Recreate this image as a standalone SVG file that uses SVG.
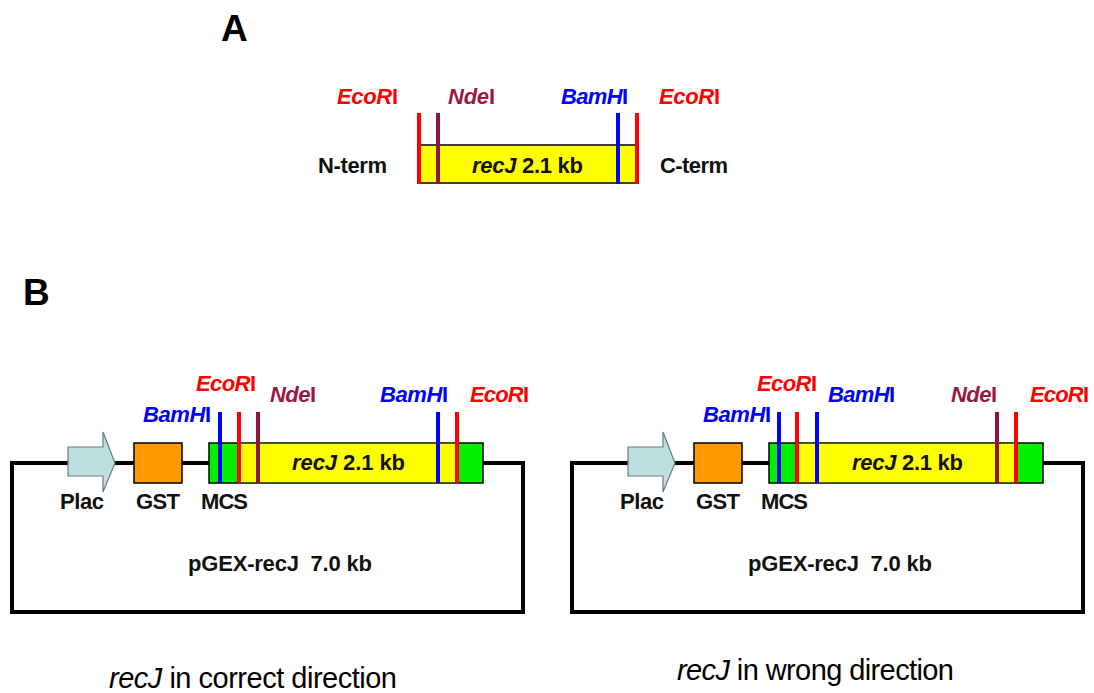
<svg xmlns="http://www.w3.org/2000/svg" width="1094" height="693" viewBox="0 0 1094 693">
  <style>
    text { font-family: "Liberation Sans", Arial, sans-serif; }
    .panel { font-size: 37px; font-weight: bold; fill: #000; }
    .site { font-size: 22px; font-weight: bold; }
    .eco { fill: #ff0000; }
    .nde { fill: #99183f; }
    .bam { fill: #0000ff; }
    .lbl { font-size: 22px; font-weight: bold; fill: #111; }
    .cap { font-size: 29px; fill: #000; }
    .it { font-style: italic; }
    .cut { stroke-width: 4; fill: none; }
    .cut-eco { stroke: #ff0000; }
    .cut-nde { stroke: #8e1538; }
    .cut-bam { stroke: #0000ff; }
    .frame { fill: none; stroke: #000; stroke-width: 4; }
    .box { stroke: #000; stroke-width: 1.5; }
    .gene { fill: #ffff00; }
    .mcs { fill: #00ee00; }
    .gst { fill: #ff9900; }
    .plac { fill: #bcdfe0; stroke: #6e7b7c; stroke-width: 1.2; }
  </style>

  <!-- panel letters -->
  <g id="label-A"><text class="panel" x="221" y="41">A</text></g>
  <g id="label-B"><text class="panel" x="23" y="305">B</text></g>

  <!-- A: recJ insert -->
  <g id="insert-A">
    <rect class="box gene" x="419" y="145" width="217" height="38"/>
    <line class="cut cut-eco" x1="419" y1="113" x2="419" y2="184"/>
    <line class="cut cut-nde" x1="438" y1="113" x2="438" y2="184"/>
    <line class="cut cut-bam" x1="618" y1="113" x2="618" y2="184"/>
    <line class="cut cut-eco" x1="637" y1="113" x2="637" y2="184"/>
    <text class="lbl" x="472" y="173" textLength="111"><tspan class="it">recJ</tspan> 2.1 kb</text>
  </g>
  <g id="sites-A">
    <text class="site eco" x="337" y="104" textLength="61"><tspan class="it">EcoR</tspan>I</text>
    <text class="site nde" x="448" y="104" textLength="47"><tspan class="it">Nde</tspan>I</text>
    <text class="site bam" x="561" y="104" textLength="67"><tspan class="it">BamH</tspan>I</text>
    <text class="site eco" x="659" y="104" textLength="61"><tspan class="it">EcoR</tspan>I</text>
  </g>
  <g id="ends-A">
    <text class="lbl" x="318" y="173" textLength="69">N-term</text>
    <text class="lbl" x="660" y="173" textLength="68">C-term</text>
  </g>

  <!-- B left: correct orientation -->
  <g id="plasmid-left">
    <rect class="frame" x="12" y="463" width="511" height="149"/>
    <g id="plac-left">
      <polygon class="plac" points="68,447 103,447 103,432 115,463 103,492 103,476 68,476"/>
      <text class="lbl" x="60" y="509" textLength="44">Plac</text>
    </g>
    <g id="gst-left">
      <rect class="box gst" x="134" y="443" width="48" height="40"/>
      <text class="lbl" x="136" y="509" textLength="44">GST</text>
    </g>
    <g id="insert-left">
      <rect class="box mcs" x="209" y="443" width="274" height="40"/>
      <rect class="gene" x="239" y="443.75" width="218" height="38.5"/>
      <line class="cut cut-bam" x1="220" y1="412" x2="220" y2="483"/>
      <line class="cut cut-eco" x1="239" y1="412" x2="239" y2="483"/>
      <line class="cut cut-nde" x1="258" y1="412" x2="258" y2="483"/>
      <line class="cut cut-bam" x1="438" y1="412" x2="438" y2="483"/>
      <line class="cut cut-eco" x1="457" y1="412" x2="457" y2="483"/>
      <text class="lbl" x="201" y="509" textLength="47">MCS</text>
      <text class="lbl" x="292" y="470" textLength="113"><tspan class="it">recJ</tspan> 2.1 kb</text>
    </g>
    <g id="sites-left">
      <text class="site bam" x="143" y="422" textLength="68"><tspan class="it">BamH</tspan>I</text>
      <text class="site eco" x="196" y="391" textLength="60"><tspan class="it">EcoR</tspan>I</text>
      <text class="site nde" x="270" y="402" textLength="46"><tspan class="it">Nde</tspan>I</text>
      <text class="site bam" x="380" y="402" textLength="68"><tspan class="it">BamH</tspan>I</text>
      <text class="site eco" x="470" y="402" textLength="59"><tspan class="it">EcoR</tspan>I</text>
    </g>
    <text class="lbl" x="188" y="571" textLength="184">pGEX-recJ&#160; 7.0 kb</text>
  </g>

  <!-- B right: reversed orientation -->
  <g id="plasmid-right">
    <rect class="frame" x="572" y="463" width="511" height="149"/>
    <g id="plac-right">
      <polygon class="plac" points="628,447 663,447 663,432 675,463 663,492 663,476 628,476"/>
      <text class="lbl" x="620" y="509" textLength="44">Plac</text>
    </g>
    <g id="gst-right">
      <rect class="box gst" x="694" y="443" width="48" height="40"/>
      <text class="lbl" x="696" y="509" textLength="44">GST</text>
    </g>
    <g id="insert-right">
      <rect class="box mcs" x="769" y="443" width="274" height="40"/>
      <rect class="gene" x="797" y="443.75" width="219" height="38.5"/>
      <line class="cut cut-bam" x1="779" y1="412" x2="779" y2="483"/>
      <line class="cut cut-eco" x1="797" y1="412" x2="797" y2="483"/>
      <line class="cut cut-bam" x1="817" y1="412" x2="817" y2="483"/>
      <line class="cut cut-nde" x1="997" y1="412" x2="997" y2="483"/>
      <line class="cut cut-eco" x1="1016" y1="412" x2="1016" y2="483"/>
      <text class="lbl" x="761" y="509" textLength="47">MCS</text>
      <text class="lbl" x="852" y="470" textLength="111"><tspan class="it">recJ</tspan> 2.1 kb</text>
    </g>
    <g id="sites-right">
      <text class="site bam" x="703" y="422" textLength="68"><tspan class="it">BamH</tspan>I</text>
      <text class="site eco" x="757" y="391" textLength="60"><tspan class="it">EcoR</tspan>I</text>
      <text class="site bam" x="828" y="402" textLength="67"><tspan class="it">BamH</tspan>I</text>
      <text class="site nde" x="951" y="402" textLength="46"><tspan class="it">Nde</tspan>I</text>
      <text class="site eco" x="1030" y="402" textLength="59"><tspan class="it">EcoR</tspan>I</text>
    </g>
    <text class="lbl" x="748" y="571" textLength="184">pGEX-recJ&#160; 7.0 kb</text>
  </g>

  <!-- captions -->
  <g id="caption-left"><text class="cap" x="109" y="688" textLength="288"><tspan class="it">recJ</tspan> in correct direction</text></g>
  <g id="caption-right"><text class="cap" x="677" y="680" textLength="277"><tspan class="it">recJ</tspan> in wrong direction</text></g>

  <!-- no connectors in this figure -->
  <g id="connectors"/>
</svg>
